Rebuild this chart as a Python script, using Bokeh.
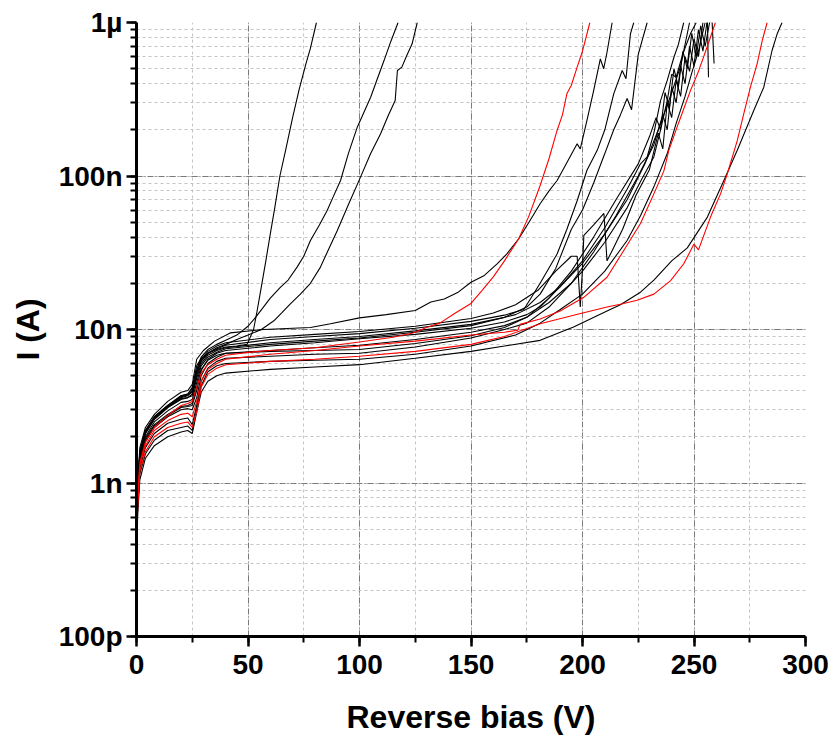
from bokeh.plotting import figure
from bokeh.models import Range1d, CustomJSTickFormatter, SingleIntervalTicker, LogTicker
from bokeh.embed import file_html
from bokeh.resources import INLINE

# ---------------- data (reverse bias in V, current in nA) ----------------
x_ticks = [0, 50, 100, 150, 200, 250, 300]
y_tick_exps = [-10, -9, -8, -7, -6]
y_tick_labels = ["100p", "1n", "10n", "100n", "1µ"]

a_v = [0, 0.15, 0.5, 1.5, 4, 8, 14, 20, 23, 25, 27, 29, 32, 36, 40, 45, 49.6, 52.5, 54, 56, 58, 60, 62, 64.3, 67, 70, 73, 76, 78, 80.7]
a_i = [0.1, 0.38, 0.95, 1.6, 2.2, 2.7, 3.2, 3.7, 3.8, 4.2, 5.8, 6.5, 7.0, 7.4, 7.7, 7.8, 8.0, 10, 13, 19, 28, 42, 62, 100, 150, 240, 370, 540, 680, 1000]

b_v = [0, 0.15, 0.5, 1.5, 4, 8, 14, 20, 23, 25, 27, 29, 32, 36, 40, 45, 50, 54, 60, 64.6, 68, 72, 75, 78, 82, 85.5, 88, 91.5, 95, 99, 102, 105, 108, 111, 114, 117.3]
b_i = [0.1, 0.37, 0.92, 1.55, 2.15, 2.65, 3.15, 3.6, 3.7, 4.0, 5.5, 6.6, 7.4, 8.0, 8.5, 9.2, 10.5, 12.3, 16, 18.9, 21, 25.5, 30, 38, 48, 59.6, 72, 93.5, 140, 208, 260, 326, 430, 565, 750, 1000]

c_v = [0, 0.15, 0.5, 1.5, 4, 8, 14, 20, 23, 25, 27, 29, 32, 36, 40, 45, 50, 56, 61.6, 65, 69, 73.5, 78, 82.5, 86, 90, 95, 100.4, 105, 109.4, 113, 116, 117, 119, 121, 123.6, 125.9]
c_i = [0.1, 0.36, 0.9, 1.5, 2.1, 2.6, 3.1, 3.5, 3.6, 3.8, 5.0, 6.2, 7.0, 7.6, 8.0, 8.6, 9.2, 10, 11.4, 12.8, 14.7, 17, 20, 25.5, 33, 44, 65, 98, 140, 188, 250, 310, 487, 512, 600, 727, 1000]

d_v = [0, 0.15, 0.5, 1.5, 4, 8, 14, 20, 23, 25, 27, 29, 32, 36, 40, 50, 60, 80, 100, 115, 124, 130, 136, 143, 149.8, 155, 160, 165, 171.4, 176, 181, 185, 188.6, 191, 193, 195, 197.6, 200, 203.3]
d_i = [0.1, 0.32, 0.8, 1.35, 1.85, 2.3, 2.75, 3.2, 3.3, 3.4, 4.2, 5.2, 5.9, 6.4, 6.8, 7.1, 7.3, 7.6, 8.3, 8.9, 9.5, 10.3, 11, 12.8, 14.7, 18, 22, 28, 39, 55, 86.7, 130, 198, 250, 343, 390, 512, 650, 1000]

e_v = [0, 0.15, 0.5, 1.5, 4, 8, 14, 20, 23, 25, 27, 30, 35, 42, 57, 78, 87, 100, 112, 125, 132, 138, 144, 150, 156, 161.7, 166, 171.4, 176, 181, 185, 188.6, 192, 194, 197.6, 199, 202, 205, 208, 209.5, 211, 213.3]
e_i = [0.1, 0.4, 1.0, 1.7, 2.3, 2.8, 3.4, 3.9, 4.0, 4.4, 6.4, 7.3, 8.4, 9.5, 10, 10.3, 10.9, 11.9, 12.5, 13.3, 15.1, 15.8, 17.4, 20.3, 22.5, 26.8, 31, 39, 50, 66, 80, 93.5, 115, 130, 162, 150, 230, 360, 580, 500, 640, 1000]

f_v = [0, 0.15, 0.5, 1.5, 4, 8, 14, 20, 23, 25, 27, 29, 32, 36, 40, 60, 80, 100, 125, 150, 165, 173.7, 181, 188.6, 193, 197.6, 202, 206.6, 210, 214, 217.8, 219.5, 221.5, 223]
f_i = [0.1, 0.37, 0.93, 1.55, 2.15, 2.65, 3.15, 3.65, 3.75, 3.9, 5.2, 6.3, 7.0, 7.5, 7.9, 8.6, 9.0, 9.4, 10.2, 11.3, 12.4, 13.5, 20, 31, 45, 69, 109, 147, 200, 343, 487, 430, 844, 1000]

g_v = [0, 0.15, 0.5, 1.5, 4, 8, 14, 20, 23, 25, 27, 29, 32, 36, 40, 60, 80, 100, 125, 150, 165, 175, 181, 188, 195, 200, 205, 210, 214, 217, 220, 222, 225, 229]
g_i = [0.1, 0.36, 0.9, 1.5, 2.1, 2.6, 3.1, 3.55, 3.6, 3.7, 4.8, 6.0, 6.8, 7.3, 7.6, 8.2, 8.6, 9.0, 9.8, 10.8, 12, 14, 17, 25, 45, 60, 90, 140, 200, 250, 320, 270, 620, 1000]

h_v = [0, 0.15, 0.5, 1.5, 4, 8, 14, 20, 23, 25, 27, 29, 32, 36, 40, 60, 80, 100, 125, 150, 165, 175, 181, 190, 200, 210, 220, 226, 229, 232, 235, 238, 241, 243, 245.4]
h_i = [0.1, 0.33, 0.82, 1.4, 1.9, 2.35, 2.75, 3.1, 3.15, 3.2, 4.0, 5.4, 6.4, 7.0, 7.3, 7.8, 8.2, 8.7, 9.3, 10.2, 11.2, 12.5, 14, 19, 28, 46, 82, 120, 133, 190, 310, 420, 594, 720, 1000]

i_v = [0, 0.15, 0.5, 1.5, 4, 8, 14, 20, 23, 25, 27, 29, 32, 36, 40, 60, 80, 100, 125, 150, 165, 175, 185, 195, 200, 210, 220, 226, 232, 235, 238, 240, 242, 245, 248.4, 251]
i_i = [0.1, 0.32, 0.8, 1.35, 1.85, 2.3, 2.7, 3.0, 3.05, 3.0, 3.6, 5.0, 6.0, 6.6, 7.0, 7.3, 7.6, 7.9, 8.6, 9.6, 10.6, 12, 15, 20, 24, 37, 62, 92, 133, 200, 310, 460, 440, 625, 844, 1000]

j1_v = [0, 0.15, 0.5, 1.5, 4, 8, 14, 20, 23, 25, 27, 29, 32, 36, 40, 60, 80, 100, 125, 150, 160, 170, 180, 188, 195, 197.6, 199, 200, 200.6, 205, 209.6, 211, 213, 218, 224, 230, 234, 236, 238, 240, 242, 244, 246, 248, 250, 252, 254]
j1_i = [0.1, 0.37, 0.94, 1.6, 2.2, 2.7, 3.2, 3.7, 3.8, 4.1, 5.4, 6.4, 7.2, 7.8, 8.2, 8.9, 9.3, 9.7, 10.5, 11.8, 12.8, 14.5, 18, 24, 30, 30, 14, 25, 41, 48, 57, 28, 32, 45, 75, 110, 190, 150, 300, 240, 420, 330, 600, 480, 780, 600, 1000]

j2_v = [0, 0.15, 0.5, 1.5, 4, 8, 14, 20, 23, 25, 27, 29, 32, 36, 40, 60, 80, 100, 125, 150, 165, 175, 185, 195, 205, 215, 225, 230, 233, 235, 237, 239, 241, 243, 245, 247, 249, 251, 253, 255, 257, 258, 259]
j2_i = [0.1, 0.33, 0.83, 1.4, 1.95, 2.4, 2.8, 3.15, 3.2, 3.3, 4.2, 5.5, 6.3, 6.8, 7.0, 7.2, 7.3, 7.4, 8.1, 9.1, 10.3, 12, 16, 24, 40, 70, 120, 180, 240, 200, 350, 280, 500, 380, 650, 500, 850, 600, 950, 700, 1000, 1100, 540]

j3_v = [0, 0.15, 0.5, 1.5, 4, 8, 14, 20, 23, 25, 27, 29, 32, 36, 40, 60, 80, 100, 125, 150, 165, 175, 185, 195, 205, 215, 225, 232, 236, 238, 240, 242, 244, 246, 248, 250, 252, 254, 256, 256.5]
j3_i = [0.1, 0.3, 0.75, 1.25, 1.7, 2.1, 2.45, 2.6, 2.65, 2.4, 3.2, 4.6, 5.6, 6.2, 6.5, 6.7, 6.9, 7.0, 7.7, 8.8, 10.0, 11, 14, 20, 32, 55, 100, 160, 250, 200, 380, 300, 520, 400, 700, 520, 900, 650, 1050, 440]

k_v = [0, 0.15, 0.5, 1.5, 4, 8, 14, 20, 23, 25, 27, 29, 32, 36, 40, 60, 80, 100, 125, 150, 165, 171, 172, 181, 190, 200.6, 211, 218.5, 226, 232, 236.5, 238.7, 243, 248.4, 252, 256, 259.6]
k_i = [0.1, 0.3, 0.76, 1.3, 1.75, 2.2, 2.55, 2.8, 2.85, 2.7, 3.4, 4.6, 5.5, 6.0, 6.4, 6.9, 7.3, 7.8, 8.4, 9.2, 9.6, 9.9, 10.8, 11.7, 13.2, 16.2, 21.9, 32.7, 49, 76.5, 108, 147, 220, 360, 480, 700, 1000]

l_v = [0, 0.15, 0.5, 1.5, 4, 8, 14, 20, 23, 25, 27, 29, 32, 36, 40, 60, 80, 100, 125, 150, 165, 181, 196, 211, 217, 224.5, 232, 239.5, 245.4, 250, 252, 257.4, 261.9, 264.9, 269.4, 272.3, 275.3, 278.3, 280.6, 282.8]
l_i = [0.1, 0.28, 0.7, 1.2, 1.6, 2.0, 2.3, 2.45, 2.5, 2.3, 2.9, 4.2, 5.1, 5.6, 5.9, 6.2, 6.4, 6.7, 7.2, 8.0, 9.0, 10.9, 12.4, 14, 14.6, 15.5, 17, 20.8, 26.8, 36, 33, 54, 76.5, 103, 170, 254, 379, 538, 763, 1000]

m_v = [0, 0.15, 0.5, 1.5, 4, 8, 14, 20, 23, 25, 27, 29, 32, 36, 40, 60, 80, 100, 125, 150, 165, 181, 196, 211, 217, 226, 232, 240, 247, 256, 263.4, 269.4, 276.8, 281.3, 285, 287.3, 289.5]
m_i = [0.1, 0.25, 0.62, 1.05, 1.45, 1.75, 2.0, 2.15, 2.2, 2.1, 2.9, 3.9, 4.6, 5.0, 5.2, 5.5, 5.7, 5.9, 6.5, 7.2, 7.8, 8.5, 10.4, 13.2, 14.5, 17.5, 21, 28, 34, 54, 93.5, 147, 267, 379, 657, 844, 1000]

n_v = [0, 0.15, 0.5, 1.5, 4, 8, 14, 20, 23, 25, 27, 29, 32, 36, 40, 60, 80, 100, 125, 150, 170, 181, 190, 200, 210, 220, 226, 232, 238, 242, 246, 249, 252, 255]
n_i = [0.1, 0.27, 0.68, 1.15, 1.55, 1.9, 2.2, 2.3, 2.35, 2.2, 3.0, 4.3, 5.3, 5.8, 6.0, 6.2, 6.3, 6.4, 6.9, 7.8, 9.2, 11, 13.5, 17, 24, 38, 55, 85, 140, 220, 330, 470, 650, 1000]

o_v = [0, 0.15, 0.5, 1.5, 4, 8, 14, 20, 23, 25, 27, 29, 32, 36, 40, 60, 80, 100, 125, 150, 170, 181, 190, 200, 210, 220, 228, 234, 240, 244, 248]
o_i = [0.1, 0.35, 0.87, 1.45, 2.0, 2.5, 2.95, 3.35, 3.4, 3.5, 4.5, 5.8, 6.6, 7.1, 7.5, 8.0, 8.4, 8.8, 9.6, 10.6, 12.5, 15, 19, 27, 42, 70, 120, 200, 350, 520, 1000]

BLACK = "#000000"
RED = "#ff0000"
curves = [
    (a_v, a_i, BLACK), (b_v, b_i, BLACK), (c_v, c_i, BLACK), (e_v, e_i, BLACK),
    (f_v, f_i, BLACK), (g_v, g_i, BLACK), (h_v, h_i, BLACK), (i_v, i_i, BLACK),
    (j1_v, j1_i, BLACK), (j2_v, j2_i, BLACK), (j3_v, j3_i, BLACK),
    (n_v, n_i, BLACK), (o_v, o_i, BLACK), (m_v, m_i, BLACK),
    (d_v, d_i, RED), (k_v, k_i, RED), (l_v, l_i, RED),
]

FONT = "'Liberation Sans', Arial, sans-serif"

p = figure(frame_width=669, frame_height=614,
           x_range=Range1d(0, 300), y_range=Range1d(1e-10, 1e-6),
           y_axis_type="log", output_backend="svg", toolbar_location=None,
           min_border_left=136, min_border_right=29, min_border_top=22, min_border_bottom=113)
p.outline_line_color = None
p.background_fill_color = "white"
p.border_fill_color = "white"

for v, cur, col in curves:
    p.line(v, [c * 1e-9 for c in cur], line_color=col, line_width=1.1)

xt = SingleIntervalTicker(interval=50, num_minor_ticks=2)
p.xaxis.ticker = xt
p.xgrid.ticker = xt
yt = LogTicker(num_minor_ticks=10)
p.yaxis.ticker = yt
p.ygrid.ticker = yt
p.yaxis.formatter = CustomJSTickFormatter(
    args=dict(exps=y_tick_exps, labels=y_tick_labels),
    code="""
const e = Math.round(Math.log10(tick));
for (let k = 0; k < exps.length; k++) { if (exps[k] === e) { return labels[k]; } }
return "";
""")

for g in (p.xgrid, p.ygrid):
    g.grid_line_color = "#7a7a7a"
    g.grid_line_dash = "6 2 1 2"
    g.grid_line_width = 1
    g.minor_grid_line_color = "#c4c4c4"
    g.minor_grid_line_dash = "3 3"
    g.minor_grid_line_width = 1

for ax in (p.xaxis, p.yaxis):
    ax.axis_line_width = 3
    ax.axis_line_color = "black"
    ax.major_tick_line_width = 2.5
    ax.major_tick_out = 10
    ax.major_tick_in = 0
    ax.minor_tick_line_width = 2
    ax.minor_tick_out = 6
    ax.minor_tick_in = 0
    ax.major_label_text_font = FONT
    ax.major_label_text_font_style = "bold"
    ax.major_label_text_font_size = "28px"
    ax.major_label_text_color = "black"
    ax.axis_label_text_font = FONT
    ax.axis_label_text_font_style = "bold"
    ax.axis_label_text_font_size = "32px"
    ax.axis_label_text_color = "black"

p.xaxis.axis_label = "Reverse bias (V)"
p.yaxis.axis_label = "I (A)"
p.xaxis.major_label_standoff = 8
p.yaxis.major_label_standoff = 4
p.xaxis.axis_label_standoff = 22
p.yaxis.axis_label_standoff = 10

open("out.html", "w").write(file_html(p, INLINE))
